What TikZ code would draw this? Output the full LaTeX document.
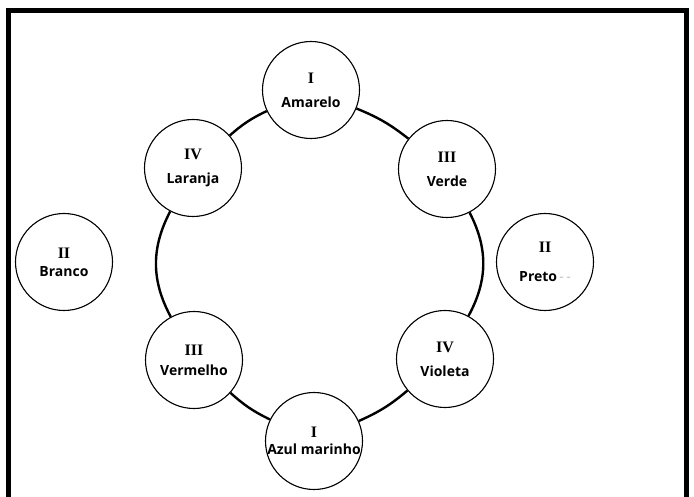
\documentclass[tikz,border=0pt]{standalone}
\usepackage{fontspec}
\setmainfont{Liberation Serif}
\setsansfont{Open Sans}
\usetikzlibrary{positioning}

\newcommand{\romnum}[1]{{\rmfamily\fontsize{16}{24}\selectfont #1}}

\begin{document}
\begin{tikzpicture}[x=1pt, y=-1pt,
    colornode/.style={circle, draw, line width=1.1pt, minimum size=97pt, inner sep=0pt,
        align=center, fill=white, font=\sffamily\bfseries\fontsize{14}{24}\selectfont},
    ring/.style={line width=2.4pt}]
\useasboundingbox (0,0) rectangle (694,497);

% frame, open at the bottom
\draw[line width=5pt] (8.5,497) -- (8.5,10.5) -- (686.5,10.5) -- (686.5,497);

\node[colornode] (amarelo) at (311,90) {\romnum{I}\\Amarelo};
\node[colornode] (laranja) at (193,168) {\romnum{IV}\\Laranja};
\node[colornode] (verde) at (447,169) {\romnum{III}\\Verde};
\node[colornode] (vermelho) at (194,360) {\romnum{III}\\[-4pt]Vermelho};
\node[colornode] (violeta) at (445,359) {\romnum{IV}\\Violeta};
\node[colornode] (azul) at (314,441) {\romnum{I}\\[-7pt]\makebox[60pt]{Azul marinho}};
\node[colornode] (branco) at (64,262) {\romnum{II}\\[-6pt]Branco};
\node[colornode] (preto) at (545,262) {\romnum{II}\\[5pt]Preto{\color{gray!50}\mdseries\,-\,-}};

\draw[ring] (amarelo) to[bend right=8] (laranja);
\draw[ring] (laranja) to[bend right=28] (vermelho);
\draw[ring] (vermelho) to[bend right=8] (azul);
\draw[ring] (azul) to[bend right=8] (violeta);
\draw[ring] (violeta) to[bend right=28] (verde);
\draw[ring] (verde) to[bend right=8] (amarelo);
\end{tikzpicture}
\end{document}
